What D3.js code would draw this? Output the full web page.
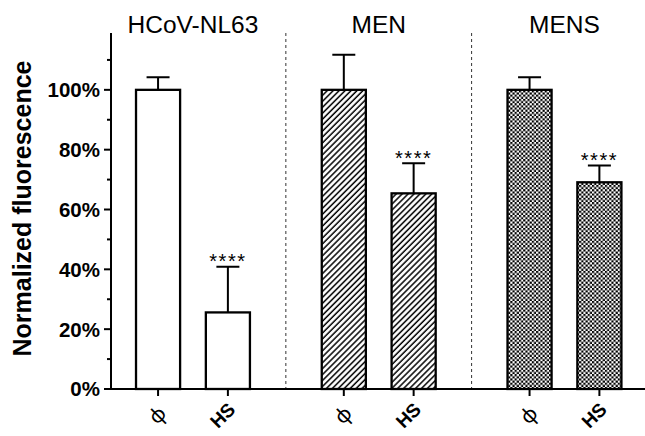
<!DOCTYPE html>
<html lang="en">
<head>
    <meta charset="UTF-8">
    <title>Normalized fluorescence</title>
    <script src="https://d3js.org/d3.v7.min.js"></script>
    <style>
        body { margin: 0; background: #fff; }
        svg { display: block; font-family: Arial, 'Liberation Sans', sans-serif; }
        .axis path, .axis line { stroke: #000; stroke-width: 2px; }
        .bar { stroke: #000; stroke-width: 2.3px; }
        .err { stroke: #000; stroke-width: 2px; fill: none; }
        .divider { stroke: #333; stroke-width: 1px; stroke-dasharray: 3,3; }
    </style>
</head>
<body>
    <svg width="645" height="436"></svg>

    <script>
        // data
        const groups = ["HCoV-NL63", "MEN", "MENS"];
        const conditions = ["ϕ", "HS"];
        const means = [[100, 25.6], [100, 65.4], [100, 69.1]];
        const errors = [[4.2, 15.3], [11.7, 10.1], [4.2, 5.6]];
        const stars = [["", "****"], ["", "****"], ["", "****"]];
        const majorTicks = [0, 20, 40, 60, 80, 100];
        const minorTicks = [10, 30, 50, 70, 90, 110];
        const fills = ["#fff", "url(#hatch)", "url(#checker)"];

        const svg = d3.select("svg");

        // patterns
        const defs = svg.append("defs");
        const hatch = defs.append("pattern")
            .attr("id", "hatch")
            .attr("patternUnits", "userSpaceOnUse")
            .attr("width", 4.2).attr("height", 8)
            .attr("patternTransform", "rotate(45)");
        hatch.append("rect").attr("width", 4.2).attr("height", 8).attr("fill", "#fff");
        hatch.append("line").attr("x1", 1).attr("x2", 1).attr("y1", 0).attr("y2", 8)
            .attr("stroke", "#000").attr("stroke-width", 1.5);

        const checker = defs.append("pattern")
            .attr("id", "checker")
            .attr("patternUnits", "userSpaceOnUse")
            .attr("width", 4.3).attr("height", 4.3);
        checker.append("rect").attr("width", 4.3).attr("height", 4.3).attr("fill", "#fff");
        checker.append("rect").attr("width", 2.15).attr("height", 2.15).attr("fill", "#000");
        checker.append("rect").attr("x", 2.15).attr("y", 2.15).attr("width", 2.15).attr("height", 2.15).attr("fill", "#000");

        // scales
        const y = d3.scaleLinear().domain([0, 119]).range([389, 33]);
        const x0 = d3.scaleBand().domain(groups).range([100.1, 657.35]).padding(0);
        const x1 = d3.scaleBand().domain(conditions).range([0, x0.bandwidth()])
            .paddingInner(0.34).paddingOuter(0.5);
        const axisX = 111;

        // dividers between groups
        svg.selectAll(".divider")
            .data(groups.slice(1))
            .enter().append("line")
            .attr("class", "divider")
            .attr("x1", d => x0(d)).attr("x2", d => x0(d))
            .attr("y1", y(119)).attr("y2", y(0));

        // bars
        const gGroup = svg.selectAll(".grp")
            .data(groups)
            .enter().append("g")
            .attr("class", "grp")
            .attr("transform", d => `translate(${x0(d)},0)`);

        gGroup.each(function (gname, gi) {
            const g = d3.select(this);
            const rows = conditions.map((c, ci) => ({ c, m: means[gi][ci], e: errors[gi][ci], s: stars[gi][ci] }));

            // error bars (behind bars)
            g.selectAll(".err")
                .data(rows)
                .enter().append("path")
                .attr("class", "err")
                .attr("d", d => {
                    const cx = x1(d.c) + x1.bandwidth() / 2;
                    return `M${cx},${y(d.m)}V${y(d.m + d.e)}M${cx - 11.5},${y(d.m + d.e)}H${cx + 11.5}`;
                });

            g.selectAll(".bar")
                .data(rows)
                .enter().append("rect")
                .attr("class", "bar")
                .attr("x", d => x1(d.c) + 1)
                .attr("width", x1.bandwidth() - 2)
                .attr("y", d => y(d.m))
                .attr("height", d => y(0) - y(d.m))
                .attr("fill", fills[gi]);

            g.selectAll(".star")
                .data(rows.filter(d => d.s))
                .enter().append("text")
                .attr("class", "star")
                .attr("x", d => x1(d.c) + x1.bandwidth() / 2)
                .attr("y", d => y(d.m + d.e) + 1.5)
                .attr("text-anchor", "middle")
                .attr("font-size", 20)
                .attr("letter-spacing", 1.5)
                .text(d => d.s);

            // group title
            g.append("text")
                .attr("x", x0.bandwidth() / 2)
                .attr("y", 33)
                .attr("text-anchor", "middle")
                .attr("font-size", 24.5)
                .text(gname);
        });

        // y axis
        const yAxis = svg.append("g")
            .attr("class", "axis")
            .attr("transform", `translate(${axisX},0)`);
        yAxis.append("line").attr("y1", y(0) + 1).attr("y2", y(119));
        yAxis.selectAll(".major")
            .data(majorTicks)
            .enter().append("line")
            .attr("x1", -7).attr("x2", 0)
            .attr("y1", d => y(d)).attr("y2", d => y(d));
        yAxis.selectAll(".minor")
            .data(minorTicks)
            .enter().append("line")
            .attr("x1", -4).attr("x2", 0)
            .attr("y1", d => y(d)).attr("y2", d => y(d));
        yAxis.selectAll(".lbl")
            .data(majorTicks)
            .enter().append("text")
            .attr("x", -11)
            .attr("y", d => y(d))
            .attr("dy", "0.36em")
            .attr("text-anchor", "end")
            .attr("font-size", 20.5)
            .attr("font-weight", "bold")
            .text(d => d + "%");

        // x axis
        const xAxis = svg.append("g").attr("class", "axis");
        xAxis.append("line").attr("x1", axisX).attr("x2", 645).attr("y1", y(0)).attr("y2", y(0));
        groups.forEach(gname => {
            conditions.forEach(c => {
                const cx = x0(gname) + x1(c) + x1.bandwidth() / 2;
                xAxis.append("line")
                    .attr("x1", cx).attr("x2", cx)
                    .attr("y1", y(0)).attr("y2", y(0) + 7);
                if (c === "HS") {
                    xAxis.append("text")
                        .attr("transform", `translate(${cx - 1},${y(0) + 12}) rotate(-45)`)
                        .attr("text-anchor", "end")
                        .attr("dy", "0.72em")
                        .attr("font-size", 19)
                        .attr("font-weight", "bold")
                        .text(c);
                } else {
                    xAxis.append("text")
                        .attr("transform", `translate(${cx - 1},${y(0) + 26}) rotate(-45)`)
                        .attr("text-anchor", "middle")
                        .attr("dy", "0.35em")
                        .attr("font-family", "'Noto Sans', sans-serif")
                        .attr("font-size", 21)
                        .text(c);
                }
            });
        });

        // y label
        svg.append("text")
            .attr("transform", `translate(31,208.5) rotate(-90)`)
            .attr("text-anchor", "middle")
            .attr("font-size", 25)
            .attr("font-weight", "bold")
            .text("Normalized fluorescence");
    </script>
</body>
</html>
